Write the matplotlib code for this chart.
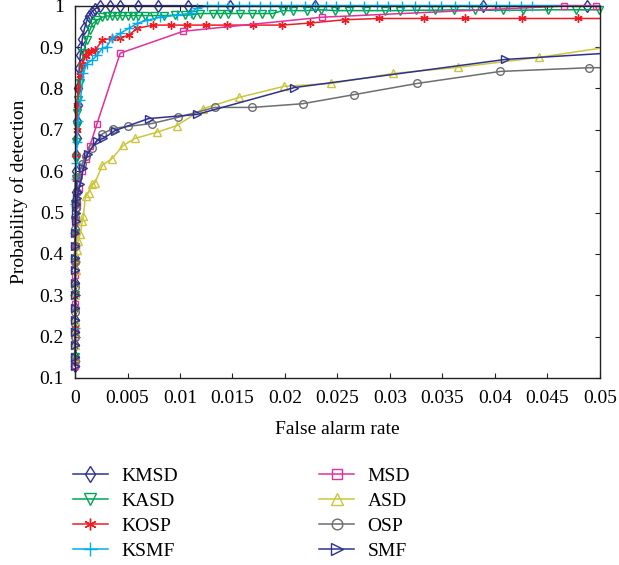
import matplotlib
matplotlib.use('Agg')
import matplotlib.pyplot as plt
from matplotlib.ticker import FuncFormatter

plt.rcParams['font.family'] = ['Liberation Serif', 'DejaVu Serif']

# KMSD
kmsd_x = [0, 0, 0, 0, 0, 0, 0, 0, 0, 0, 0.00003, 0.00003, 0.00005, 0.00005, 0.00008,
          0.0001, 0.0001, 0.00015, 0.0002, 0.00025, 0.0003, 0.0004, 0.0005, 0.0006, 0.0007,
          0.0009, 0.0011, 0.0013, 0.0016, 0.0019, 0.0024, 0.0033, 0.0043, 0.006, 0.0079, 0.0108,
          0.0148, 0.0229, 0.0389, 0.0488]
kmsd_y = [0.13, 0.15, 0.18, 0.21, 0.24, 0.27, 0.3, 0.33, 0.36, 0.39, 0.42, 0.45, 0.48, 0.51,
          0.55, 0.6, 0.64, 0.68, 0.72, 0.76, 0.8, 0.85, 0.88, 0.9, 0.92,
          0.945, 0.962, 0.975, 0.985, 0.992, 1, 1, 1, 1, 1, 1,
          1, 1, 1, 1]

# KASD
kasd_x = [0, 0, 0, 0, 0, 0, 0.00005, 0.00008, 0.0001, 0.00015, 0.0002, 0.0003, 0.0005, 0.0007,
          0.0008, 0.0011, 0.0014, 0.0017, 0.0021, 0.0026, 0.003, 0.0035, 0.004, 0.0045, 0.005,
          0.0055, 0.006, 0.0067, 0.0075, 0.0085, 0.0095, 0.0105, 0.0112, 0.0119, 0.0131, 0.0138,
          0.0146, 0.0157, 0.0169, 0.0178, 0.0188, 0.0198, 0.0208, 0.0221, 0.0234, 0.0248, 0.0261,
          0.0277, 0.0295, 0.031, 0.0325, 0.0343, 0.0361, 0.0381, 0.0408, 0.0427, 0.0451, 0.0477,
          0.0499]
kasd_y = [0.15, 0.22, 0.3, 0.38, 0.45, 0.52, 0.58, 0.63, 0.67, 0.71, 0.74, 0.771, 0.813, 0.851,
          0.885, 0.916, 0.94, 0.957, 0.965, 0.972, 0.975, 0.975, 0.976, 0.976, 0.976,
          0.976, 0.976, 0.976, 0.976, 0.976, 0.977, 0.977, 0.978, 0.981, 0.981, 0.981,
          0.981, 0.981, 0.981, 0.981, 0.981, 0.988, 0.988, 0.988, 0.99, 0.988, 0.988,
          0.988, 0.988, 0.988, 0.989, 0.989, 0.99, 0.989, 0.989, 0.989, 0.99, 0.99,
          0.99]

# KOSP (last entry: value where the line meets the right border)
kosp_x = [0, 0, 0, 0, 0, 0, 0.00005, 0.0001, 0.00015, 0.0002, 0.0003, 0.0005, 0.0007, 0.001,
          0.0012, 0.0015, 0.0019, 0.0026, 0.0035, 0.0043, 0.0051, 0.0059, 0.0074, 0.0091, 0.0107,
          0.0125, 0.0145, 0.017, 0.0197, 0.0224, 0.0257, 0.029, 0.0332, 0.0371, 0.0426, 0.0479,
          0.05]
kosp_y = [0.14, 0.22, 0.3, 0.38, 0.45, 0.52, 0.58, 0.64, 0.7, 0.76, 0.8, 0.832, 0.858, 0.878,
          0.889, 0.89, 0.892, 0.916, 0.922, 0.923, 0.928, 0.945, 0.953, 0.953, 0.953,
          0.953, 0.953, 0.953, 0.953, 0.958, 0.966, 0.969, 0.969, 0.969, 0.969, 0.969,
          0.969]

# KSMF
ksmf_x = [0, 0, 0, 0, 0, 0, 0.00005, 0.0001, 0.0002, 0.0003, 0.0005, 0.0008, 0.0011, 0.0016,
          0.0021, 0.0026, 0.003, 0.0035, 0.0043, 0.0051, 0.0059, 0.0069, 0.0081, 0.0097, 0.011,
          0.0116, 0.0126, 0.0136, 0.0146, 0.0156, 0.0166, 0.0176, 0.0186, 0.0196, 0.0206, 0.0219,
          0.0229, 0.0239, 0.0249, 0.0262, 0.0275, 0.0288, 0.0298, 0.0311, 0.0324, 0.0337, 0.0349,
          0.0362, 0.0375, 0.0388, 0.0401, 0.0413, 0.0425, 0.0435, 0.05]
ksmf_y = [0.14, 0.22, 0.3, 0.38, 0.45, 0.52, 0.58, 0.62, 0.67, 0.72, 0.771, 0.836, 0.86, 0.868,
          0.88, 0.897, 0.9, 0.921, 0.933, 0.945, 0.957, 0.965, 0.972, 0.977, 0.982,
          0.994, 1, 1, 1, 1, 1, 1, 1, 1, 1, 1,
          1, 1, 1, 1, 1, 1, 1, 1, 1, 1, 1,
          1, 1, 1, 1, 1, 1, 1, 1]

# MSD
msd_x = [0, 0, 0, 0, 0.00005, 0.0001, 0.0002, 0.0004, 0.0007, 0.001, 0.0014, 0.0021, 0.0043,
         0.0103, 0.0235, 0.0466, 0.0496]
msd_y = [0.13, 0.2, 0.28, 0.35, 0.42, 0.48, 0.52, 0.56, 0.6, 0.63, 0.66, 0.715, 0.885,
         0.938, 0.972, 0.999, 1.0]

# ASD
asd_x = [0, 0, 0, 0, 0, 0, 0.00003, 0.00005, 0.0001, 0.0002, 0.0003, 0.0005, 0.0007, 0.0008,
         0.001, 0.0013, 0.0016, 0.0019, 0.0026, 0.0035, 0.0046, 0.0057, 0.0078, 0.0097, 0.0122,
         0.0156, 0.0199, 0.0244, 0.0303, 0.0365, 0.0442, 0.05]
asd_y = [0.15, 0.18, 0.21, 0.24, 0.27, 0.3, 0.33, 0.36, 0.39, 0.41, 0.43, 0.449, 0.48, 0.492,
         0.541, 0.548, 0.569, 0.572, 0.614, 0.63, 0.662, 0.679, 0.694, 0.71, 0.751,
         0.778, 0.805, 0.812, 0.836, 0.851, 0.875, 0.897]

# OSP
osp_x = [0, 0, 0, 0, 0, 0, 0, 0.00003, 0.00005, 0.0001, 0.0001, 0.0002, 0.0003, 0.0007, 0.001,
         0.0016, 0.0026, 0.0036, 0.005, 0.0073, 0.0098, 0.0133, 0.0169, 0.0217, 0.0266, 0.0326,
         0.0405, 0.049, 0.05]
osp_y = [0.14, 0.2, 0.26, 0.32, 0.38, 0.42, 0.46, 0.49, 0.51, 0.52, 0.53, 0.55, 0.585, 0.618,
         0.637, 0.657, 0.69, 0.703, 0.708, 0.715, 0.73, 0.754, 0.754, 0.763, 0.785, 0.812,
         0.841, 0.85, 0.85]

# SMF
smf_x = [0, 0, 0, 0, 0, 0, 0, 0, 0, 0, 0.00003, 0.00003, 0.00005, 0.00008, 0.0001, 0.0002,
         0.0003, 0.0005, 0.0008, 0.0012, 0.0021, 0.0027, 0.0038, 0.007, 0.0116, 0.0209, 0.041,
         0.05]
smf_y = [0.13, 0.15, 0.18, 0.21, 0.24, 0.27, 0.3, 0.33, 0.36, 0.39, 0.42, 0.45, 0.48, 0.5,
         0.52, 0.535, 0.55, 0.569, 0.608, 0.642, 0.674, 0.679, 0.698, 0.727, 0.737, 0.802,
         0.87, 0.884]

# name, x, y, colour, marker, size, last point is only the border crossing
series = [
    ('KMSD', kmsd_x, kmsd_y, '#2E3192', 'd', 6, False),
    ('KASD', kasd_x, kasd_y, '#00A651', 'v', 6, False),
    ('KOSP', kosp_x, kosp_y, '#ED1C24', (6, 2, 0), 6, True),
    ('KSMF', ksmf_x, ksmf_y, '#00AEEF', '+', 7, True),
    ('MSD', msd_x, msd_y, '#E0309A', 's', 5, False),
    ('ASD', asd_x, asd_y, '#CCC63C', '^', 6, True),
    ('OSP', osp_x, osp_y, '#6D6E71', 'o', 5.5, True),
    ('SMF', smf_x, smf_y, '#2E3192', '>', 6, True),
]

fig = plt.figure(figsize=(6.19, 5.65), dpi=100)
ax = fig.add_axes([0.1212, 0.331, 0.848, 0.659])

handles = []
for name, xs, ys, c, m, ms, edge in series:
    n = len(xs) - 1 if edge else len(xs)
    h, = ax.plot(xs, ys, color=c, marker=m, markersize=ms, markerfacecolor='none',
                 markeredgecolor=c, markeredgewidth=1.0, linewidth=1.1, label=name,
                 markevery=list(range(n)), clip_on=False)
    handles.append(h)

ax.set_xlim(0, 0.05)
ax.set_ylim(0.1, 1.0)
ax.set_xticks([0, 0.005, 0.01, 0.015, 0.02, 0.025, 0.03, 0.035, 0.04, 0.045, 0.05])
ax.set_yticks([0.1, 0.2, 0.3, 0.4, 0.5, 0.6, 0.7, 0.8, 0.9, 1.0])
ax.xaxis.set_major_formatter(FuncFormatter(lambda v, p: '%g' % round(v, 4)))
ax.yaxis.set_major_formatter(FuncFormatter(lambda v, p: '%g' % round(v, 2)))
ax.tick_params(direction='in', length=3.5, width=0.8, top=True, right=True,
               labelsize=14, color='#222222')
ax.tick_params(axis='x', pad=9)
ax.tick_params(axis='y', pad=8)
for s in ax.spines.values():
    s.set_linewidth(1.0)
    s.set_color('#222222')

ax.set_xlabel('False alarm rate', fontsize=14, labelpad=10)
ax.set_ylabel('Probability of detection', fontsize=14, labelpad=8)

leg1 = fig.legend(handles=handles[:4], loc='upper left', bbox_to_anchor=(0.105, 0.187),
                  frameon=False, fontsize=14, handlelength=1.8, handletextpad=0.7,
                  labelspacing=0.38, borderaxespad=0, markerscale=1.4)
leg2 = fig.legend(handles=handles[4:], loc='upper left', bbox_to_anchor=(0.503, 0.187),
                  frameon=False, fontsize=14, handlelength=1.8, handletextpad=0.7,
                  labelspacing=0.38, borderaxespad=0, markerscale=1.4)

fig.savefig('out.png', dpi=100)
